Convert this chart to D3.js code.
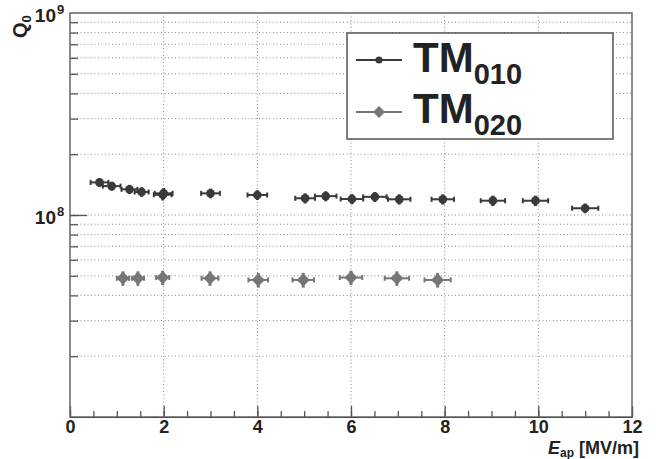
<!DOCTYPE html>
<html>
<head>
<meta charset="utf-8">
<script src="https://cdnjs.cloudflare.com/ajax/libs/d3/7.8.5/d3.min.js"></script>
<style>
  body { margin: 0; background: #fff; }
  text { font-family: "Liberation Sans", Arial, sans-serif; font-weight: bold; fill: #222; }
</style>
</head>
<body>
<div class="chart"></div>
<script>
// TM010 mode
const tm010_E    = [0.63, 0.89, 1.27, 1.53, 1.98, 2.0, 3.0, 4.0, 5.02, 5.46, 6.02, 6.51, 7.03, 7.96, 9.03, 9.94, 11.0];
const tm010_Q    = [1.45e8, 1.39e8, 1.34e8, 1.30e8, 1.26e8, 1.28e8, 1.28e8, 1.256e8, 1.21e8, 1.24e8, 1.20e8, 1.23e8, 1.196e8, 1.196e8, 1.177e8, 1.177e8, 1.08e8];
const tm010_Eerr = [0.19, 0.19, 0.17, 0.15, 0.19, 0.19, 0.2, 0.21, 0.21, 0.23, 0.24, 0.25, 0.24, 0.24, 0.26, 0.27, 0.28];
const tm010_Qerr = [7e6, 7e6, 7e6, 7e6, 8e6, 8e6, 7e6, 7e6, 7e6, 7e6, 7e6, 7e6, 7e6, 7e6, 7e6, 7e6, 6e6];
// TM020 mode
const tm020_E    = [1.13, 1.45, 1.98, 2.99, 4.02, 4.98, 6.0, 6.98, 7.85];
const tm020_Q    = [4.86e7, 4.86e7, 4.9e7, 4.86e7, 4.77e7, 4.77e7, 4.9e7, 4.86e7, 4.77e7];
const tm020_Eerr = [0.13, 0.13, 0.14, 0.18, 0.21, 0.23, 0.24, 0.26, 0.28];
const tm020_Qerr = [4e6, 4e6, 4e6, 4e6, 4e6, 4e6, 4e6, 4e6, 4e6];

const xTicks = [0, 2, 4, 6, 8, 10, 12];
const yLabels = [{v: 1e8, exp: "8"}, {v: 1e9, exp: "9"}];

const width = 656, height = 459;
const L = 70, R = 632, T = 13, B = 417;

const svg = d3.select('.chart').append('svg')
  .attr('width', width).attr('height', height);

const x = d3.scaleLinear().domain([0, 12]).range([L, R]);
const y = d3.scaleLog().domain([1e7, 1e9]).range([B, T]);

// grid values on log axis: 2..9 x 10^7, 1..9 x 10^8
const yGrid = [];
for (let k = 2; k <= 9; k++) yGrid.push(k * 1e7);
for (let k = 1; k <= 9; k++) yGrid.push(k * 1e8);

const grid = svg.append('g').attr('stroke', '#8a8a8a').attr('stroke-width', 1).attr('stroke-dasharray', '1,2.5');
grid.selectAll('line.h').data(yGrid).enter().append('line')
  .attr('x1', L).attr('x2', R)
  .attr('y1', d => y(d)).attr('y2', d => y(d));
grid.selectAll('line.v').data(xTicks.slice(1, -1)).enter().append('line')
  .attr('y1', T).attr('y2', B)
  .attr('x1', d => x(d)).attr('x2', d => x(d));

// x axis: minor and major ticks pointing inward
const xMinor = d3.range(0, 12.01, 0.5);
svg.append('g').attr('transform', `translate(0,${B})`)
  .call(d3.axisBottom(x).tickValues(xMinor).tickSize(-6).tickFormat(''))
  .call(g => g.select('.domain').remove());
const xAxis = svg.append('g').attr('transform', `translate(0,${B})`)
  .call(d3.axisBottom(x).tickValues(xTicks).tickSize(-11).tickFormat(d3.format('d')));
xAxis.selectAll('text').attr('y', 3).attr('font-size', '18px').attr('fill', '#222');

// y axis
svg.append('g').attr('transform', `translate(${L},0)`)
  .call(d3.axisLeft(y).tickValues(yGrid).tickSize(-8).tickFormat(''))
  .call(g => g.select('.domain').remove());
svg.append('g').attr('transform', `translate(${L},0)`)
  .call(d3.axisLeft(y).tickValues([1e8]).tickSize(-17).tickFormat(''))
  .call(g => g.select('.domain').remove());
svg.selectAll('.tick line').attr('stroke', '#555').attr('stroke-width', 1.3);

const yl = svg.append('g').selectAll('text').data(yLabels).enter().append('text')
  .attr('x', 56).attr('y', d => y(d.v) + 9)
  .attr('text-anchor', 'end').attr('font-size', '19px');
yl.append('tspan').text('10');
svg.append('g').selectAll('text').data(yLabels).enter().append('text')
  .attr('x', 57).attr('y', d => y(d.v) + 1)
  .attr('font-size', '13px').text(d => d.exp);

// frame
svg.append('rect').attr('x', L).attr('y', T).attr('width', R - L).attr('height', B - T)
  .attr('fill', 'none').attr('stroke', '#666').attr('stroke-width', 1.5);

// axis titles
const qt = svg.append('text').attr('transform', 'translate(27,38) rotate(-90)')
  .attr('font-size', '20px');
qt.append('tspan').text('Q');
qt.append('tspan').attr('font-size', '13px').attr('dy', 4).text('0');

const xt = svg.append('text').attr('x', 639).attr('y', 454).attr('text-anchor', 'end').attr('font-size', '18px');
xt.append('tspan').attr('font-style', 'italic').text('E');
xt.append('tspan').attr('font-size', '12px').attr('dy', 3).text('ap');
xt.append('tspan').attr('dy', -3).text(' [MV/m]');

// data with error bars
function drawSeries(Es, Qs, Eerr, Qerr, color, marker) {
  const pts = Es.map((e, i) => ({e: e, q: Qs[i], ee: Eerr[i], qe: Qerr[i]}));
  const g = svg.append('g').attr('stroke', color).attr('stroke-width', 2);
  g.selectAll('line.xe').data(pts).enter().append('line')
    .attr('x1', d => x(d.e - d.ee)).attr('x2', d => x(d.e + d.ee))
    .attr('y1', d => y(d.q)).attr('y2', d => y(d.q));
  g.selectAll('line.c1').data(pts).enter().append('line')
    .attr('x1', d => x(d.e - d.ee)).attr('x2', d => x(d.e - d.ee))
    .attr('y1', d => y(d.q) - 2.5).attr('y2', d => y(d.q) + 2.5);
  g.selectAll('line.c2').data(pts).enter().append('line')
    .attr('x1', d => x(d.e + d.ee)).attr('x2', d => x(d.e + d.ee))
    .attr('y1', d => y(d.q) - 2.5).attr('y2', d => y(d.q) + 2.5);
  g.selectAll('line.ye').data(pts).enter().append('line')
    .attr('stroke-width', 3)
    .attr('x1', d => x(d.e)).attr('x2', d => x(d.e))
    .attr('y1', d => y(d.q - d.qe)).attr('y2', d => y(d.q + d.qe));
  g.selectAll('path.m').data(pts).enter().append('path')
    .attr('transform', d => `translate(${x(d.e)},${y(d.q)})`)
    .attr('d', marker).attr('fill', color).attr('stroke', 'none');
}
const circle = d3.symbol(d3.symbolCircle, 60)();
const diamond = 'M0,-6.5L6.5,0L0,6.5L-6.5,0Z';
drawSeries(tm010_E, tm010_Q, tm010_Eerr, tm010_Qerr, '#3a3a3a', circle);
drawSeries(tm020_E, tm020_Q, tm020_Eerr, tm020_Qerr, '#767676', diamond);

// legend
const lg = svg.append('g');
lg.append('rect').attr('x', 347).attr('y', 33).attr('width', 266).attr('height', 106)
  .attr('fill', '#fff').attr('stroke', '#555').attr('stroke-width', 1.5);
const entries = [
  {name: '010', color: '#3a3a3a', marker: d3.symbol(d3.symbolCircle, 40)(), my: 60, ty: 72},
  {name: '020', color: '#767676', marker: 'M0,-6L6,0L0,6L-6,0Z', my: 112, ty: 123}
];
entries.forEach(function(d) {
  lg.append('line').attr('x1', 356).attr('x2', 402).attr('y1', d.my).attr('y2', d.my)
    .attr('stroke', d.color).attr('stroke-width', 2);
  lg.append('path').attr('transform', `translate(379,${d.my})`).attr('d', d.marker).attr('fill', d.color);
  const t = lg.append('text').attr('x', 413).attr('y', d.ty).attr('font-size', '42px');
  t.append('tspan').text('TM');
  t.append('tspan').attr('font-size', '29px').attr('dy', 12).text(d.name);
});
</script>
</body>
</html>
